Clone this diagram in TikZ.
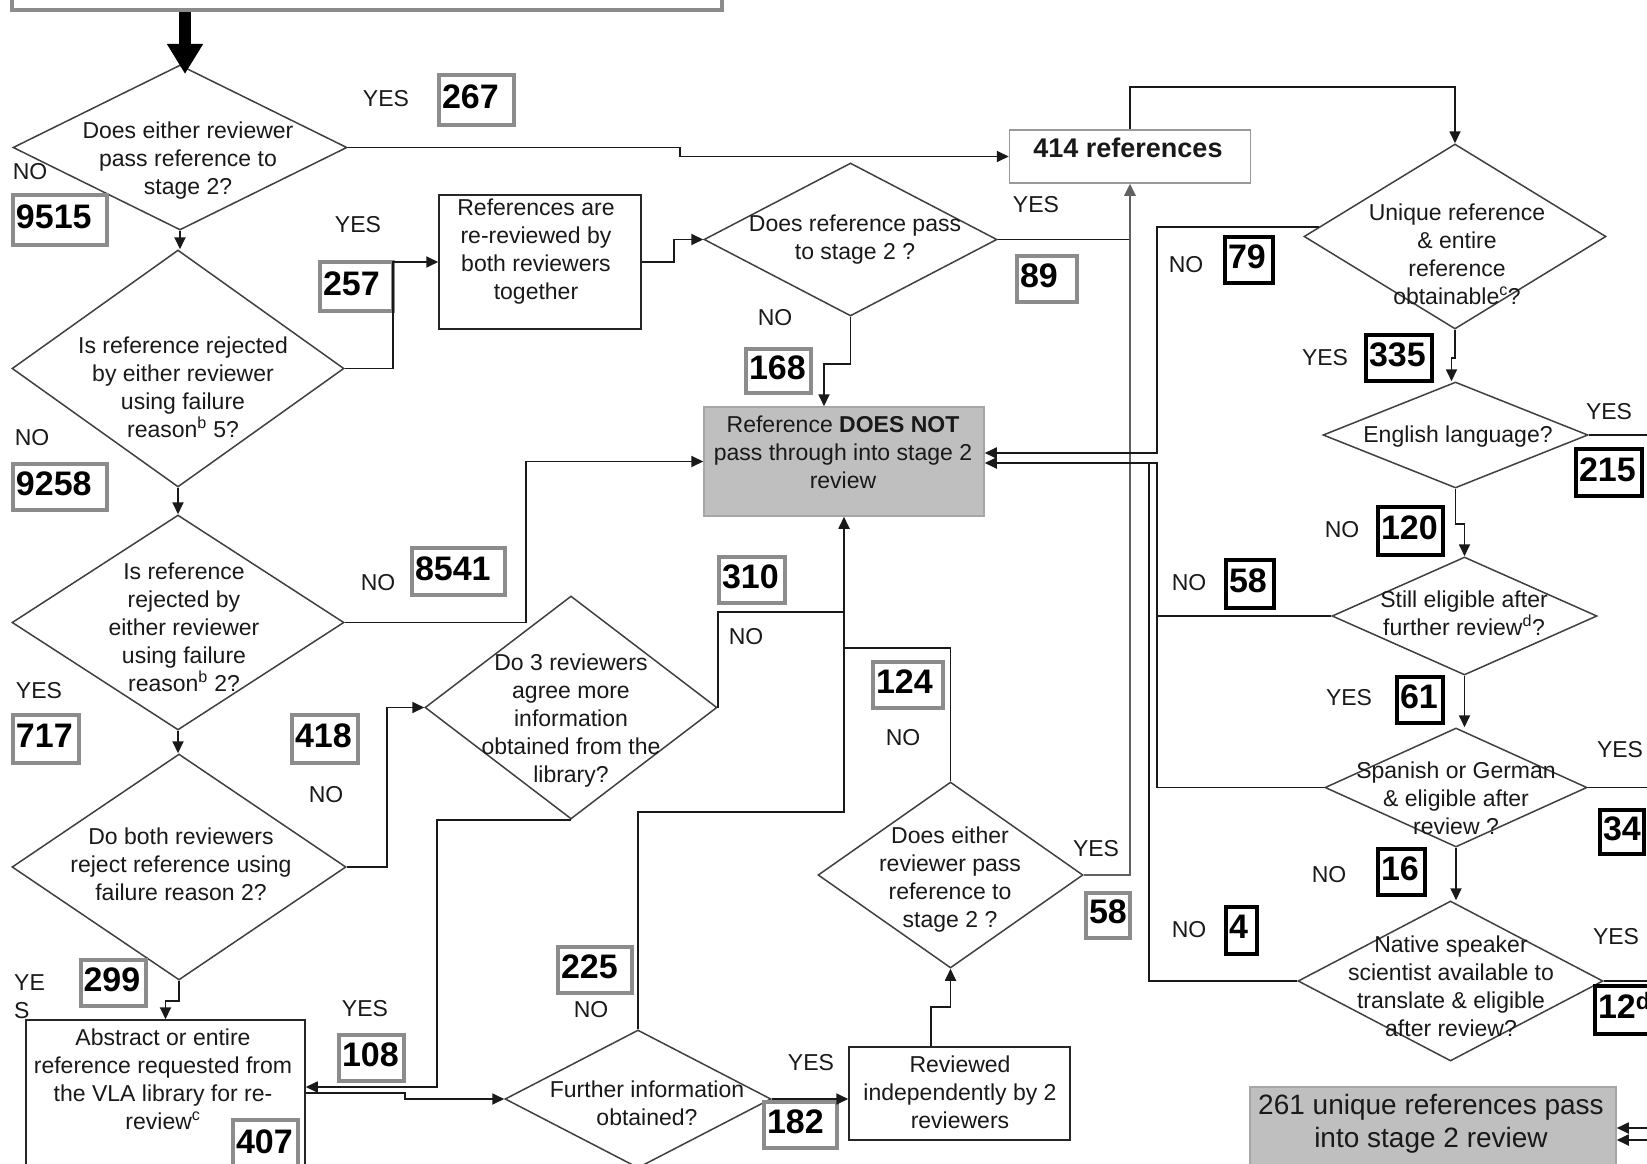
\documentclass[tikz,border=0pt]{standalone}
\usepackage{fontspec}
\setmainfont{Liberation Sans}
\usetikzlibrary{shapes.geometric,arrows.meta}
\newcommand\tfs{\fontsize{23}{28}\selectfont}
\newcommand\nfs{\fontsize{34}{34}\selectfont\bfseries}
\begin{document}
\begin{tikzpicture}[x=1pt,y=-1pt,
  dia/.style={draw=black!75, line width=1.5pt, shape=diamond, inner sep=0pt, fill=white},
  txt/.style={font=\tfs, align=center, inner sep=0pt, text=black!90},
  lbl/.style={font=\tfs, inner sep=0pt, text=black!90},
  gnum/.style={draw=black!45, line width=4pt, font=\nfs, inner xsep=3pt, inner ysep=0pt, align=left, text height=24pt, text depth=7pt},
  bnum/.style={draw=black, line width=4pt, font=\nfs, inner xsep=3pt, inner ysep=0pt, align=left, text height=24pt, text depth=7pt},
  wbox/.style={draw=black!85, line width=1.5pt, inner sep=0pt, fill=white},
  gbox/.style={draw=black!35, line width=1.5pt, fill=black!25, inner sep=0pt},
  conn/.style={draw=black!90, line width=1.8pt},
  arr/.style={conn, -{Triangle[length=12pt,width=11pt]}},
  arrg/.style={draw=black!62, line width=2.6pt, -{Triangle[length=12pt,width=11pt]}},
]
\useasboundingbox (0,0) rectangle (1647,1164);
\clip (0,0) rectangle (1647,1164);
\fill[white] (0,0) rectangle (1647,1164);

% ---------- boxes ----------
\node[draw=black!45, line width=4pt, minimum width=710pt, minimum height=40pt, inner sep=0pt] (topbox) at (367,-10) {};
\node[wbox, minimum width=202pt, minimum height=134pt] (refbox) at (540,262) {};
\node[draw=black!40, line width=1.5pt, fill=white, inner sep=0pt, minimum width=241pt, minimum height=53pt] (box414) at (1130,156.5) {};
\node[gbox, minimum width=280pt, minimum height=109pt] (notpass) at (844,461.5) {};
\node[wbox, minimum width=279pt, minimum height=160pt] (abstract) at (165.5,1100) {};
\node[wbox, minimum width=221pt, minimum height=93pt] (reviewed) at (959.5,1093.5) {};
\node[gbox, minimum width=366pt, minimum height=93pt] (pass261) at (1433,1133.5) {};

% ---------- diamonds ----------
\node[dia, minimum width=334pt, minimum height=165pt] (d1) at (180,147.5) {};
\node[dia, minimum width=332pt, minimum height=237pt] (d5) at (178,368.5) {};
\node[dia, minimum width=332pt, minimum height=215pt] (d2r) at (178,622.5) {};
\node[dia, minimum width=334pt, minimum height=226pt] (dboth) at (179,867) {};
\node[dia, minimum width=293pt, minimum height=153pt] (d3) at (850.5,239.5) {};
\node[dia, minimum width=292pt, minimum height=223pt] (d3rev) at (571,707.5) {};
\node[dia, minimum width=266pt, minimum height=138pt] (dfurther) at (638,1099) {};
\node[dia, minimum width=265pt, minimum height=186pt] (deither2) at (950.5,875) {};
\node[dia, minimum width=302pt, minimum height=185pt] (dunique) at (1455,236.5) {};
\node[dia, minimum width=265pt, minimum height=106pt] (denglish) at (1455.5,435) {};
\node[dia, minimum width=265pt, minimum height=118pt] (dstill) at (1464.5,616) {};
\node[dia, minimum width=262pt, minimum height=119pt] (dspanish) at (1456,787.5) {};
\node[dia, minimum width=305pt, minimum height=160pt] (dnative) at (1450.5,981) {};

% ---------- texts ----------
\node[txt] (d1t) at (188,161) {Does either reviewer\\pass reference to\\stage 2?};
\node[txt] (d5t) at (183,387) {Is reference rejected\\by either reviewer\\using failure\\reason\textsuperscript{b} 5?};
\node[txt] (d2rt) at (184,627) {Is reference\\rejected by\\either reviewer\\using failure\\reason\textsuperscript{b} 2?};
\node[txt] (dbotht) at (181,864) {Do both reviewers\\reject reference using\\failure reason 2?};
\node[txt] (d3t) at (855,240) {Does reference pass\\to stage 2 ?};
\node[txt] (d3revt) at (571,721) {Do 3 reviewers\\agree more\\information\\obtained from the\\library?};
\node[txt] (dfurthert) at (647,1103) {Further information\\obtained?};
\node[txt] (deither2t) at (950,880) {Does either\\reviewer pass\\reference to\\stage 2 ?};
\node[txt] (duniquet) at (1457,254) {Unique reference\\\& entire\\reference\\obtainable\textsuperscript{c}?};
\node[txt] (denglisht) at (1458,437) {English language?};
\node[txt] (dstillt) at (1464,613) {Still eligible after\\further review\textsuperscript{d}?};
\node[txt] (dspanisht) at (1456,798) {Spanish or German\\\& eligible after\\review ?};
\node[txt] (dnativet) at (1451,986) {Native speaker\\scientist available to\\translate \& eligible\\after review?};
\node[txt] (refboxt) at (536,252) {References are\\re-reviewed by\\both reviewers\\together};
\node[txt] (notpasst) at (843,452) {Reference \textbf{DOES NOT}\\pass through into stage 2\\review};
\node[txt] (abstractt) at (163,1079) {Abstract or entire\\reference requested from\\the VLA library for re-\\review\textsuperscript{c}};
\node[txt] (reviewedt) at (960,1092) {Reviewed\\independently by 2\\reviewers};
\node[txt, font=\fontsize{28}{33}\selectfont] (pass261t) at (1431,1124) {261 unique references pass\\into stage 2 review};
\node[txt, font=\fontsize{27}{30}\selectfont\bfseries] (box414t) at (1128,148) {414 references};

% ---------- YES / NO labels ----------
\node[lbl] (l01) at (30,172) {NO};
\node[lbl] (l02) at (386,99) {YES};
\node[lbl] (l03) at (358,225) {YES};
\node[lbl] (l04) at (1036,205) {YES};
\node[lbl] (l05) at (775,318) {NO};
\node[lbl] (l06) at (32,438) {NO};
\node[lbl] (l07) at (378,583) {NO};
\node[lbl] (l08) at (39,691) {YES};
\node[lbl] (l09) at (326,795) {NO};
\node[lbl, align=left, anchor=west] (l10) at (14,997) {YE\\S};
\node[lbl] (l11) at (365,1009) {YES};
\node[lbl] (l12) at (746,637) {NO};
\node[lbl] (l13) at (903,738) {NO};
\node[lbl] (l14) at (591,1010) {NO};
\node[lbl] (l15) at (811,1063) {YES};
\node[lbl] (l16) at (1096,849) {YES};
\node[lbl] (l17) at (1186,265) {NO};
\node[lbl] (l18) at (1325,358) {YES};
\node[lbl] (l19) at (1609,412) {YES};
\node[lbl] (l20) at (1342,530) {NO};
\node[lbl] (l21) at (1189,583) {NO};
\node[lbl] (l22) at (1349,698) {YES};
\node[lbl] (l23) at (1620,750) {YES};
\node[lbl] (l24) at (1329,875) {NO};
\node[lbl] (l25) at (1189,930) {NO};
\node[lbl] (l26) at (1616,937) {YES};

% ---------- number boxes ----------
\node[gnum, minimum width=75pt, minimum height=50pt, text width=69pt] (n267) at (476.5,100) {267};
\node[gnum, minimum width=94pt, minimum height=50pt, text width=88pt] (n9515) at (60,220) {9515};
\node[gnum, minimum width=73pt, minimum height=49pt, text width=67pt] (n257) at (356.5,286.5) {257};
\node[gnum, minimum width=60pt, minimum height=46pt, text width=54pt] (n89) at (1047,279) {89};
\node[gnum, minimum width=65pt, minimum height=44pt, text width=59pt] (n168) at (778.5,371) {168};
\node[gnum, minimum width=94pt, minimum height=46pt, text width=88pt] (n9258) at (60,487) {9258};
\node[gnum, minimum width=93pt, minimum height=47pt, text width=87pt] (n8541) at (458.5,571.5) {8541};
\node[gnum, minimum width=66pt, minimum height=48pt, text width=60pt] (n717) at (46,739) {717};
\node[gnum, minimum width=66pt, minimum height=48pt, text width=60pt] (n418) at (325,739) {418};
\node[gnum, minimum width=66pt, minimum height=46pt, text width=60pt] (n310) at (752,580) {310};
\node[gnum, minimum width=70pt, minimum height=46pt, text width=64pt] (n124) at (908,685) {124};
\node[gnum, minimum width=65pt, minimum height=46pt, text width=59pt] (n299) at (113,983) {299};
\node[gnum, minimum width=65pt, minimum height=46pt, text width=59pt] (n108) at (371.5,1058) {108};
\node[gnum, minimum width=65pt, minimum height=50pt, text width=59pt] (n407) at (265.5,1145) {407};
\node[gnum, minimum width=74pt, minimum height=46pt, text width=68pt] (n225) at (595,970) {225};
\node[gnum, minimum width=73pt, minimum height=46pt, text width=67pt] (n182) at (800.5,1125) {182};
\node[gnum, minimum width=44pt, minimum height=45pt, text width=38pt] (n58g) at (1108,915) {58};
\node[bnum, minimum width=48pt, minimum height=46pt, text width=42pt] (n79) at (1249,260) {79};
\node[bnum, minimum width=66pt, minimum height=46pt, text width=60pt] (n335) at (1399,358) {335};
\node[bnum, minimum width=66pt, minimum height=47pt, text width=60pt] (n215) at (1609,472.5) {215};
\node[bnum, minimum width=65pt, minimum height=48pt, text width=59pt] (n120) at (1410.5,531) {120};
\node[bnum, minimum width=48pt, minimum height=48pt, text width=42pt] (n58b) at (1250,584) {58};
\node[bnum, minimum width=46pt, minimum height=46pt, text width=40pt] (n61) at (1420,700) {61};
\node[bnum, minimum width=44pt, minimum height=44pt, text width=38pt] (n34) at (1622,832) {34};
\node[bnum, minimum width=47pt, minimum height=46pt, text width=41pt] (n16) at (1401.5,872) {16};
\node[bnum, minimum width=31pt, minimum height=47pt, text width=25pt] (n4) at (1241.5,930) {4};
\node[bnum, minimum width=62pt, minimum height=48pt, text width=56pt] (n12) at (1626,1010) {12\textsuperscript{d}};

% ---------- connectors ----------
\coordinate (thickend) at (185,74);
\draw[line width=12pt, black, -{Triangle[length=30pt,width=34pt]}] (topbox.south -| thickend) -- (thickend);

\draw[arr] (d1.south) -- (d1.south |- d5.north);
\draw[arr] (d5.south) -- (d5.south |- d2r.north);
\draw[arr] (d2r.south) -- (d2r.south |- dboth.north);

\draw[arr] (d1.east) -- ++(332,0) |- (box414.west);
\draw[arr] (d5.east) -- ++(48,0) |- (refbox.west);
\draw[arr] (refbox.east) -- ++(32,0) |- (d3.west);
\draw[conn] (d3.east) -- (d3.east -| box414.south);
\draw[arrg] (deither2.east) -| (box414.south);
\draw[arr] (d3.south) -- ++(0,47) -| ([xshift=-20pt]notpass.north);
\draw[arr] (d2r.east) -- ++(181,0) |- (notpass.west);
\draw[arr] (dboth.east) -- ++(40,0) |- (d3rev.west);

\coordinate (vjoin) at (844,812);
\coordinate (c310) at (844,612);
\coordinate (c124) at (844,648);
\draw[arr] (dfurther.north) |- (vjoin) -- (notpass.south);
\draw[conn] (d3rev.east) |- (c310);
\draw[conn] (deither2.north) |- (c124);

\draw[arr] (dboth.south) -- ++(0,20) -| (abstract.north);
\coordinate (c108) at (437,1087);
\draw[arr] (d3rev.south) -| (c108) -- ([yshift=13pt]abstract.east);
\coordinate (c407) at (405,1093);
\draw[arr] ([yshift=7pt]abstract.east) -- (c407) |- (dfurther.west);
\draw[arr] (dfurther.east) -- (dfurther.east -| reviewed.west);
\draw[arr] ([xshift=-28.5pt]reviewed.north) -- ++(0,-39) -| (deither2.south);

\draw[arr] (box414.north) -- ++(0,-42) -| (dunique.north);
\coordinate (v79) at (1157,453);
\draw[arr] (dunique.176) -| (v79) -- (v79 -| notpass.east);
\coordinate (vj) at (1157,463);
\coordinate (vj2) at (1149,463);
\draw[arr] (dspanish.west) -| (vj) -- (vj -| notpass.east);
\draw[conn] (dstill.west) -- (dstill.west -| vj);
\draw[conn] (dnative.west) -| (vj2);

\draw[arr] (dunique.south) -- ++(0,28) -| ([xshift=-4pt]denglish.north);
\draw[arr] (denglish.south) -- ++(0,35) -| (dstill.north);
\draw[arr] (dstill.south) -- (dstill.south |- dspanish.north);
\draw[arr] (dspanish.south) -- (dspanish.south |- dnative.north);

\coordinate (eEng) at (1660,435);
\coordinate (eSpa) at (1660,787.5);
\coordinate (eNat) at (1660,981);
\draw[conn] (denglish.east) -- (eEng);
\draw[conn] (dspanish.east) -- (eSpa);
\draw[conn] (dnative.east) -- (eNat);
\coordinate (eIn1) at (1660,1128);
\coordinate (eIn2) at (1660,1140);
\draw[arr] (eIn1) -- (eIn1 -| pass261.east);
\draw[arr] (eIn2) -- (eIn2 -| pass261.east);
\end{tikzpicture}
\end{document}
